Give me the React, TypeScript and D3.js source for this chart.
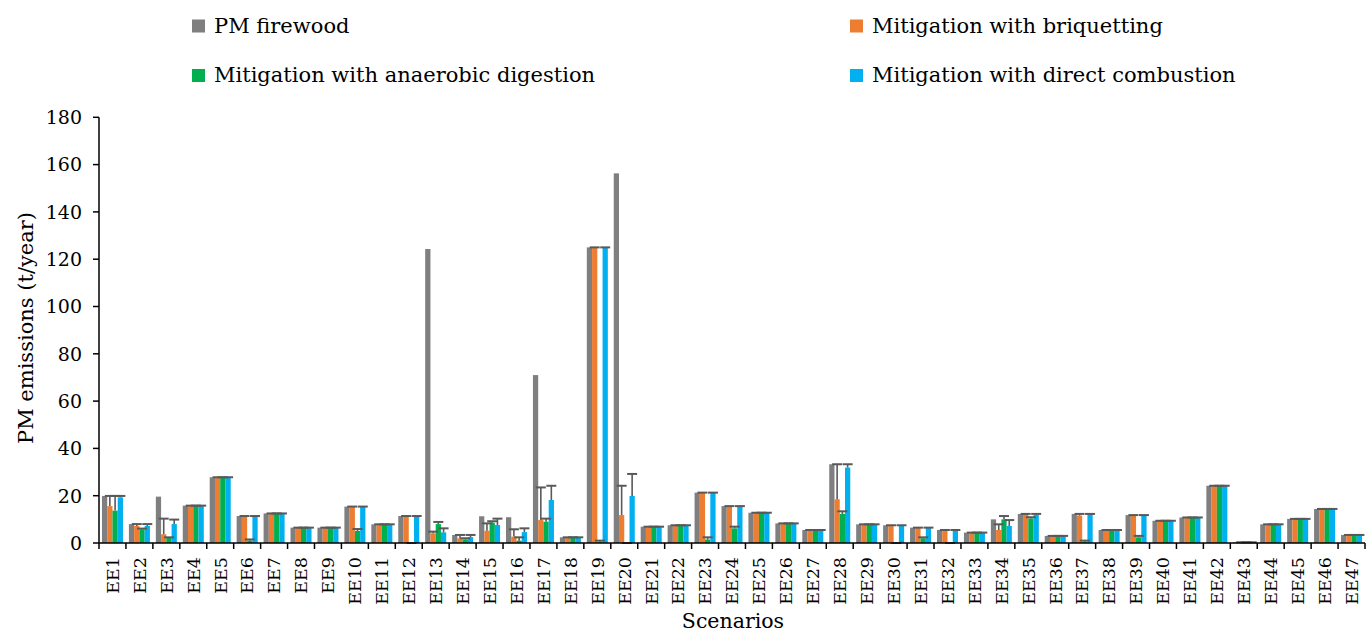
import React from "react";
import * as d3 from "d3";

const categories = Array.from({ length: 47 }, (_, i) => `EE${i + 1}`);

const seriesNames = [
  "PM firewood",
  "Mitigation with briquetting",
  "Mitigation with anaerobic digestion",
  "Mitigation with direct combustion",
];
const seriesColors = ["#7F7F7F", "#ED7D31", "#00B050", "#00B0F0"];

const firewood = [19.9, 8.0, 19.6, 15.8, 27.8, 11.4, 12.5, 6.5, 6.5, 15.4, 7.9, 11.4, 124.3, 3.4, 11.3, 10.9, 71.0, 2.4, 125.0, 156.3, 6.9, 7.5, 21.3, 15.6, 12.8, 8.3, 5.5, 33.3, 7.9, 7.5, 6.5, 5.5, 4.4, 10.0, 12.3, 3.0, 12.3, 5.5, 11.8, 9.4, 10.8, 24.2, 0.3, 7.9, 10.2, 14.4, 3.4];
const briquetting = [15.6, 7.2, 3.7, 15.8, 27.8, 11.4, 12.5, 6.5, 6.5, 15.4, 7.9, 11.4, 4.1, 2.0, 5.2, 2.7, 9.7, 2.4, 125.0, 11.8, 6.9, 7.5, 21.3, 15.6, 12.8, 8.3, 5.5, 18.5, 7.9, 7.5, 6.5, 5.5, 4.4, 5.5, 12.3, 3.0, 11.6, 5.5, 11.8, 9.4, 10.8, 24.2, 0.3, 7.9, 10.2, 14.4, 3.4];
const digestion = [13.7, 5.8, 2.4, 15.8, 27.8, 1.0, 12.5, 6.5, 6.5, 5.1, 7.9, 0, 8.0, 1.5, 8.6, 1.0, 9.0, 2.4, 0.5, 0, 6.9, 7.5, 1.5, 6.2, 12.8, 8.3, 5.5, 12.3, 7.9, 0, 2.0, 0, 4.4, 10.0, 10.4, 3.0, 0.5, 5.5, 2.4, 9.4, 10.8, 24.2, 0.3, 7.9, 10.2, 14.4, 3.4];
const combustion = [19.3, 7.2, 8.0, 15.8, 27.8, 11.4, 12.5, 6.5, 6.5, 15.4, 7.9, 11.4, 4.5, 2.5, 7.6, 4.6, 18.2, 2.4, 125.0, 19.9, 6.9, 7.5, 21.3, 15.6, 12.8, 8.3, 5.5, 31.9, 7.9, 7.5, 6.5, 5.5, 4.4, 7.2, 12.0, 3.0, 12.3, 5.5, 11.8, 9.4, 10.8, 24.2, 0.3, 7.9, 10.2, 14.4, 3.4];

// upper ends of the error bars
const briquettingHigh = [19.9, 8.0, 10.3, 15.8, 27.8, 11.4, 12.5, 6.5, 6.5, 15.4, 7.9, 11.4, 4.8, 3.4, 8.3, 5.8, 23.5, 2.4, 125.0, 24.2, 6.9, 7.5, 21.3, 15.6, 12.8, 8.3, 5.5, 33.3, 7.9, 7.5, 6.5, 5.5, 4.4, 7.9, 12.3, 3.0, 12.3, 5.5, 11.8, 9.4, 10.8, 24.2, 0.3, 7.9, 10.2, 14.4, 3.4];
const digestionHigh = [19.9, 6.1, 2.4, 15.8, 27.8, 1.5, 12.5, 6.5, 6.5, 5.9, 7.9, 0, 8.9, 2.0, 9.2, 2.4, 10.3, 2.4, 1.0, 0, 6.9, 7.5, 2.4, 6.9, 12.8, 8.3, 5.5, 13.4, 7.9, 0, 2.4, 0, 4.4, 11.4, 10.9, 3.0, 1.0, 5.5, 3.0, 9.4, 10.8, 24.2, 0.3, 7.9, 10.2, 14.4, 3.4];
const combustionHigh = [19.9, 8.0, 9.9, 15.8, 27.8, 11.4, 12.5, 6.5, 6.5, 15.4, 7.9, 11.4, 6.2, 3.4, 10.3, 6.2, 24.2, 2.4, 125.0, 29.2, 6.9, 7.5, 21.3, 15.6, 12.8, 8.3, 5.5, 33.3, 7.9, 7.5, 6.5, 5.5, 4.4, 9.7, 12.3, 3.0, 12.3, 5.5, 11.8, 9.4, 10.8, 24.2, 0.3, 7.9, 10.2, 14.4, 3.4];

const yTicks = [0, 20, 40, 60, 80, 100, 120, 140, 160, 180];

const FONT = "'DejaVu Serif', serif";

export default function App() {
  const W = 1367;
  const H = 635;
  const left = 99;
  const right = 1365;
  const top = 117.3;
  const bottom = 543;

  const x0 = d3.scaleBand<string>().domain(categories).range([left, right]).paddingInner(0.22).paddingOuter(0.11);
  const step = (right - left) / categories.length;
  const x1 = d3.scaleBand<number>().domain([0, 1, 2, 3]).range([0, x0.bandwidth()]).padding(0);
  const y = d3.scaleLinear().domain([0, 180]).range([bottom, top]);

  const values = [firewood, briquetting, digestion, combustion];
  const highs = [null, briquettingHigh, digestionHigh, combustionHigh];

  const capW = 10;
  const errColor = "#595959";

  return (
    <svg width={W} height={H} style={{ position: "absolute", left: 0, top: 0, background: "#fff" }} fontFamily={FONT}>
      {/* legend */}
      {seriesNames.map((name, i) => {
        const lx = i % 2 === 0 ? 192 : 850;
        const ly = i < 2 ? 19.5 : 69;
        return (
          <g key={name}>
            <rect x={lx} y={ly} width={13} height={13} fill={seriesColors[i]} />
            <text x={lx + 22} y={ly + 13} fontSize={21} fill="#000">{name}</text>
          </g>
        );
      })}

      {/* bars */}
      {values.map((vals, s) => (
        <g key={s}>
          {vals.map((v, i) => {
            const bx = (x0(categories[i]) as number) + (x1(s) as number);
            return (
              <rect key={i} x={bx} y={y(v)} width={x1.bandwidth()} height={bottom - y(v)} fill={seriesColors[s]} />
            );
          })}
        </g>
      ))}

      {/* error bars */}
      {highs.map((hs, s) =>
        hs ? (
          <g key={s}>
            {hs.map((h, i) => {
              const cx = (x0(categories[i]) as number) + (x1(s) as number) + x1.bandwidth() / 2;
              const v = values[s][i];
              return (
                <g key={i}>
                  {h > v && <line x1={cx} x2={cx} y1={y(v)} y2={y(h)} stroke={errColor} strokeWidth={1.6} />}
                  <line x1={cx - capW / 2} x2={cx + capW / 2} y1={y(h)} y2={y(h)} stroke={errColor} strokeWidth={2} />
                </g>
              );
            })}
          </g>
        ) : null
      )}

      {/* y axis */}
      <line x1={left} x2={left} y1={top} y2={bottom} stroke="#000" strokeWidth={1.5} />
      {yTicks.map((t) => (
        <g key={t}>
          <line x1={left - 6} x2={left} y1={y(t)} y2={y(t)} stroke="#000" strokeWidth={1.5} />
          <text x={82} y={y(t)} dy="0.36em" textAnchor="end" fontSize={19} fill="#000">{t}</text>
        </g>
      ))}

      {/* x axis */}
      <line x1={left} x2={right} y1={bottom} y2={bottom} stroke="#000" strokeWidth={1.5} />
      {d3.range(categories.length + 1).map((i) => (
        <line key={i} x1={left + i * step} x2={left + i * step} y1={bottom} y2={bottom + 6} stroke="#000" strokeWidth={1.5} />
      ))}
      {categories.map((c) => {
        const cx = (x0(c) as number) + x0.bandwidth() / 2;
        return (
          <text key={c} transform={`translate(${cx},557) rotate(-90)`} dy="0.36em" textAnchor="end" fontSize={17.5} fill="#000">
            {c}
          </text>
        );
      })}

      {/* axis titles */}
      <text transform="translate(25,328) rotate(-90)" dy="0.36em" textAnchor="middle" fontSize={21} fill="#000">
        PM emissions (t/year)
      </text>
      <text x={733} y={628} textAnchor="middle" fontSize={20.5} fill="#000">Scenarios</text>
    </svg>
  );
}
